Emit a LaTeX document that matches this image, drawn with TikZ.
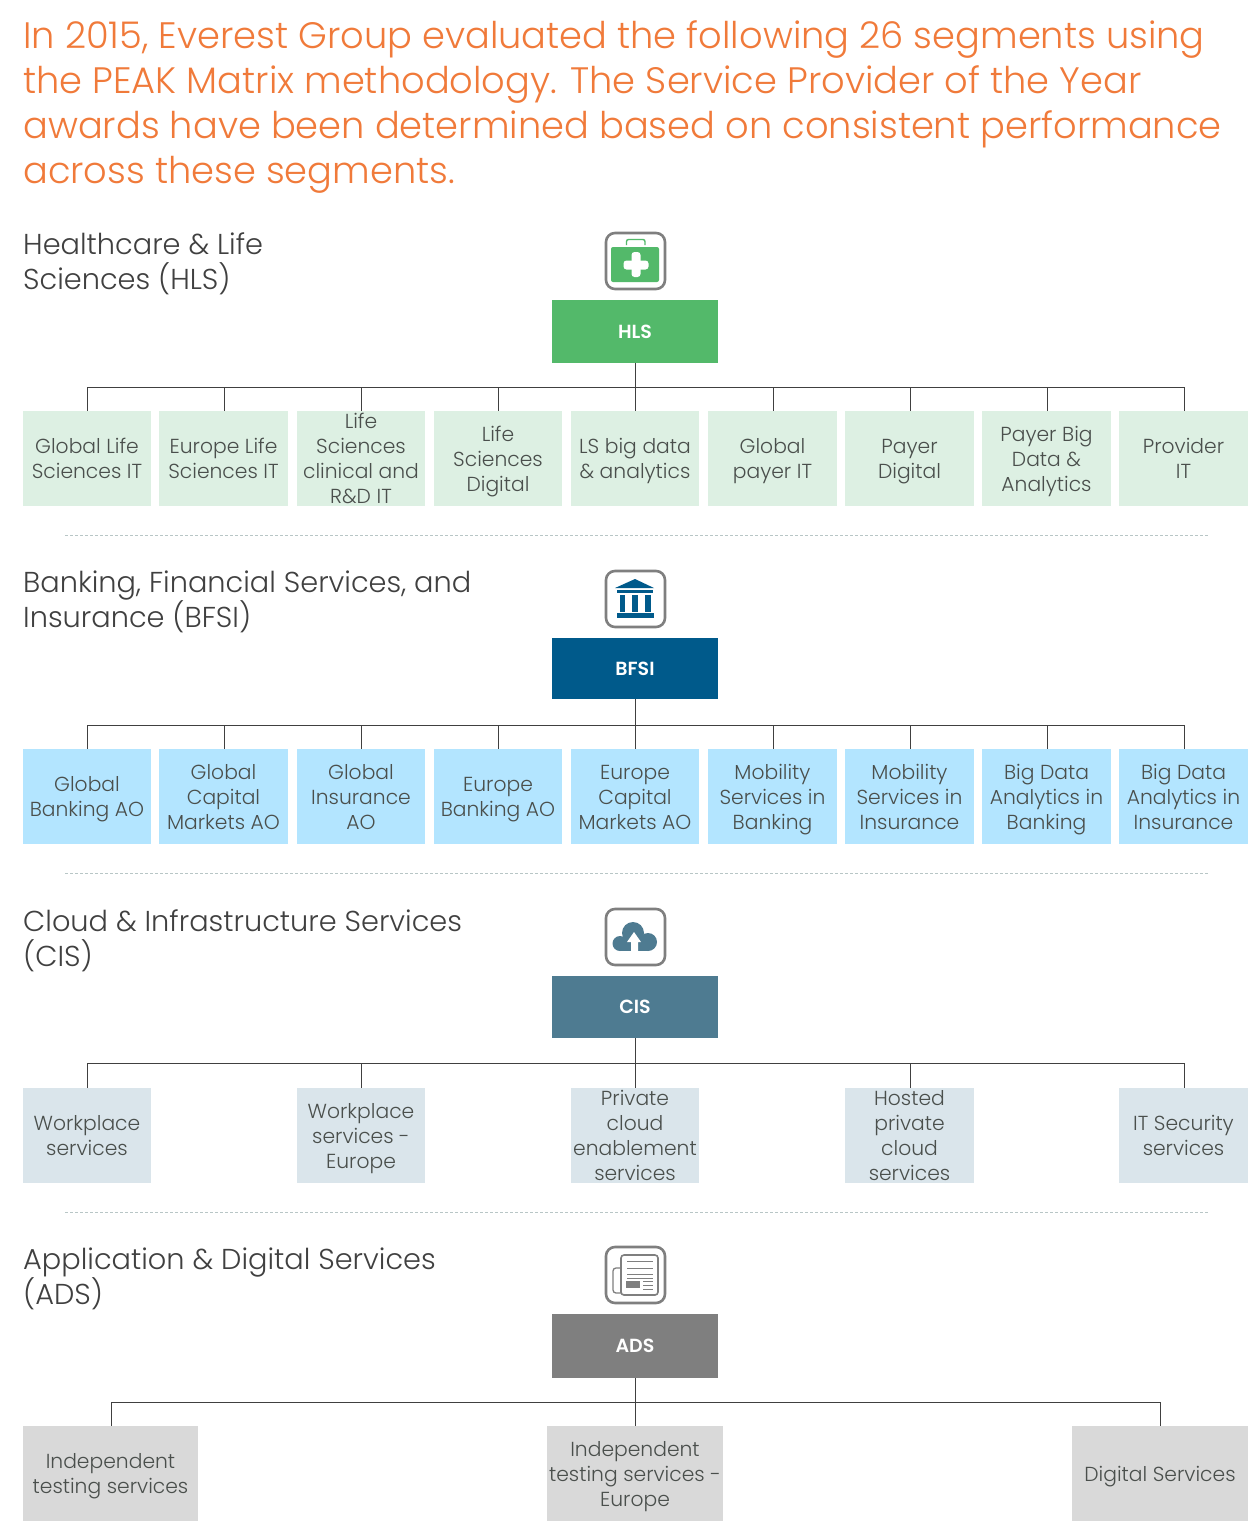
\documentclass[tikz,border=0pt]{standalone}
\usepackage{fontspec}
\setmainfont{Poppins}[UprightFont=* Light,BoldFont=* SemiBold]
\definecolor{orangeT}{HTML}{F07A3A}
\definecolor{headT}{HTML}{404040}
\definecolor{leafT}{HTML}{4A4F4C}
\definecolor{iconG}{HTML}{7F7F7F}
\definecolor{ruleC}{HTML}{404040}
\definecolor{sepC}{HTML}{B8C6C6}
\definecolor{hubH}{HTML}{53B96A}\definecolor{leafH}{HTML}{DDF0E3}
\definecolor{hubB}{HTML}{005A8B}\definecolor{leafB}{HTML}{B3E5FF}
\definecolor{hubC}{HTML}{4E7B91}\definecolor{leafC}{HTML}{DAE5EB}
\definecolor{hubA}{HTML}{7F7F7F}\definecolor{leafA}{HTML}{D9D9D9}
\tikzset{
  x=1pt,y=-1pt,
  boxbase/.style={rectangle,inner sep=0pt,outer sep=0pt,anchor=center},
  leafbox/.style={boxbase},
  leaftext/.style={inner sep=0pt,align=center,text=leafT,font=\fontsize{20.3}{25}\selectfont},
  hubbox/.style={boxbase,text=white,font=\bfseries\fontsize{19}{23}\selectfont},
  heading/.style={anchor=north west,inner sep=0pt,align=left,text=headT,font=\fontsize{28.8}{35}\selectfont},
  title/.style={anchor=north west,inner sep=0pt,align=left,text=orangeT,font=\fontsize{36.8}{45}\selectfont},
  conn/.style={draw=ruleC,line width=0.9pt},
  sep/.style={draw=sepC,line width=0.8pt,dash pattern=on 3pt off 2pt},
  iconframe/.style={draw=iconG,line width=2.6pt,rounded corners=9pt,fill=white},
}
% name, x0, x1, ytop, ybottom, fill, text, bus coordinate
\newcommand{\leafnode}[8]{%
  \node[leafbox,fill=#6,minimum width=#3-#2,minimum height=#5-#4] (#1) at ({(#2+#3)/2},{(#4+#5)/2}) {};
  \node[leaftext] (#1t) at ([yshift=-2.5pt]#1.center) {\strut #7\strut};
  \draw[conn] (#8) -| ([xshift=0.5pt]#1.north);
}
\newcommand{\hubnode}[6]{%
  \node[hubbox,fill=#5,minimum width=166,minimum height=#3-#2] (#1) at (635,{(#2+#3)/2}) {#6};
  \coordinate (#1bus) at (635.5,#4);
  \draw[conn] ([xshift=0.5pt]#1.south) -- (#1bus);
}
\begin{document}
\begin{tikzpicture}
\useasboundingbox (0,0) rectangle (1259,1524);
\node[title] (ttl) at (23,20) {In 2015, Everest Group evaluated the following 26 segments using\\the PEAK Matrix methodology. The Service Provider of the Year\\awards have been determined based on consistent performance\\across these segments.};

% HLS
\node[heading] (h1) at (23,232) {Healthcare \& Life\\Sciences (HLS)};
\draw[iconframe] (606,233) rectangle (665,289);
\fill[hubH,rounded corners=2pt] (611,247) rectangle (659,282);
\draw[hubH,line width=1.4pt,rounded corners=2pt] (626.5,245) -- (626.5,239.5) -- (645,239.5) -- (645,245);
\fill[white,rounded corners=3pt] (631.5,252) rectangle (640.5,277);
\fill[white,rounded corners=3pt] (623.5,260.5) rectangle (648.5,269.5);
\hubnode{HLS}{300}{363}{387}{hubH}{HLS}
\leafnode{a1}{23}{151}{411}{506}{leafH}{Global Life\\Sciences IT}{HLSbus}
\leafnode{a2}{159}{288}{411}{506}{leafH}{Europe Life\\Sciences IT}{HLSbus}
\leafnode{a3}{297}{425}{411}{506}{leafH}{Life\\Sciences\\clinical and\\R\&D IT}{HLSbus}
\leafnode{a4}{434}{562}{411}{506}{leafH}{Life\\Sciences\\Digital}{HLSbus}
\leafnode{a5}{571}{699}{411}{506}{leafH}{LS big data\\\& analytics}{HLSbus}
\leafnode{a6}{708}{837}{411}{506}{leafH}{Global\\payer IT}{HLSbus}
\leafnode{a7}{845}{974}{411}{506}{leafH}{Payer\\Digital}{HLSbus}
\leafnode{a8}{982}{1111}{411}{506}{leafH}{Payer Big\\Data \&\\Analytics}{HLSbus}
\leafnode{a9}{1119}{1248}{411}{506}{leafH}{Provider\\IT}{HLSbus}
\coordinate (s1l) at (65,535); \coordinate (s1r) at (1208,535);
\draw[sep] (s1l) -- (s1r);

% BFSI
\node[heading] (h2) at (23,571) {Banking, Financial Services, and\\Insurance (BFSI)};
\draw[iconframe] (606,571) rectangle (665,627);
\fill[hubB] (635,579) -- (654,588) -- (615,588) -- cycle;
\fill[hubB] (617,590) rectangle (653,593);
\fill[hubB] (620,595) rectangle (625,612);
\fill[hubB] (632,595) rectangle (638,612);
\fill[hubB] (645,595) rectangle (651,612);
\fill[hubB] (617,613) rectangle (654,618);
\hubnode{BFSI}{638}{699}{725}{hubB}{BFSI}
\leafnode{b1}{23}{151}{749}{844}{leafB}{Global\\Banking AO}{BFSIbus}
\leafnode{b2}{159}{288}{749}{844}{leafB}{Global\\Capital\\Markets AO}{BFSIbus}
\leafnode{b3}{297}{425}{749}{844}{leafB}{Global\\Insurance\\AO}{BFSIbus}
\leafnode{b4}{434}{562}{749}{844}{leafB}{Europe\\Banking AO}{BFSIbus}
\leafnode{b5}{571}{699}{749}{844}{leafB}{Europe\\Capital\\Markets AO}{BFSIbus}
\leafnode{b6}{708}{837}{749}{844}{leafB}{Mobility\\Services in\\Banking}{BFSIbus}
\leafnode{b7}{845}{974}{749}{844}{leafB}{Mobility\\Services in\\Insurance}{BFSIbus}
\leafnode{b8}{982}{1111}{749}{844}{leafB}{Big Data\\Analytics in\\Banking}{BFSIbus}
\leafnode{b9}{1119}{1248}{749}{844}{leafB}{Big Data\\Analytics in\\Insurance}{BFSIbus}
\coordinate (s2l) at (65,873); \coordinate (s2r) at (1208,873);
\draw[sep] (s2l) -- (s2r);

% CIS
\node[heading] (h3) at (23,909) {Cloud \& Infrastructure Services\\(CIS)};
\draw[iconframe] (606,909) rectangle (665,965);
\fill[hubC] (620,943.5) circle (7.5);
\fill[hubC] (633,933) circle (11);
\fill[hubC] (648,942) circle (9);
\fill[hubC] (620,938) rectangle (648,951);
\fill[white] (634,932) -- (641,942) -- (638,942) -- (638,951) -- (631,951) -- (631,942) -- (627,942) -- cycle;
\hubnode{CIS}{976}{1038}{1063}{hubC}{CIS}
\leafnode{c1}{23}{151}{1088}{1183}{leafC}{Workplace\\services}{CISbus}
\leafnode{c2}{297}{425}{1088}{1183}{leafC}{Workplace\\services -\\Europe}{CISbus}
\leafnode{c3}{571}{699}{1088}{1183}{leafC}{Private\\cloud\\enablement\\services}{CISbus}
\leafnode{c4}{845}{974}{1088}{1183}{leafC}{Hosted\\private\\cloud\\services}{CISbus}
\leafnode{c5}{1119}{1248}{1088}{1183}{leafC}{IT Security\\services}{CISbus}
\coordinate (s3l) at (65,1212); \coordinate (s3r) at (1208,1212);
\draw[sep] (s3l) -- (s3r);

% ADS
\node[heading] (h4) at (23,1248) {Application \& Digital Services\\(ADS)};
\draw[iconframe] (606,1247) rectangle (665,1303);
\draw[iconG,line width=1.3pt,rounded corners=3pt,fill=white] (621,1268) -- (613,1268) -- (613,1293) -- (621,1293);
\draw[iconG,line width=1.6pt,rounded corners=3pt,fill=white] (621,1255) rectangle (658,1295);
\foreach \yy in {1261,1268,1274,1278} \draw[iconG,line width=0.8pt] (627,\yy) -- (653,\yy);
\fill[iconG] (626,1281) rectangle (640,1288);
\foreach \yy in {1281,1285,1289} \draw[iconG,line width=0.8pt] (643,\yy) -- (653,\yy);
\hubnode{ADS}{1314}{1378}{1402}{hubA}{ADS}
\leafnode{d1}{23}{198}{1426}{1521}{leafA}{Independent\\testing services}{ADSbus}
\leafnode{d2}{547}{723}{1426}{1521}{leafA}{Independent\\testing services -\\Europe}{ADSbus}
\leafnode{d3}{1072}{1248}{1426}{1521}{leafA}{Digital Services}{ADSbus}
\end{tikzpicture}
\end{document}
